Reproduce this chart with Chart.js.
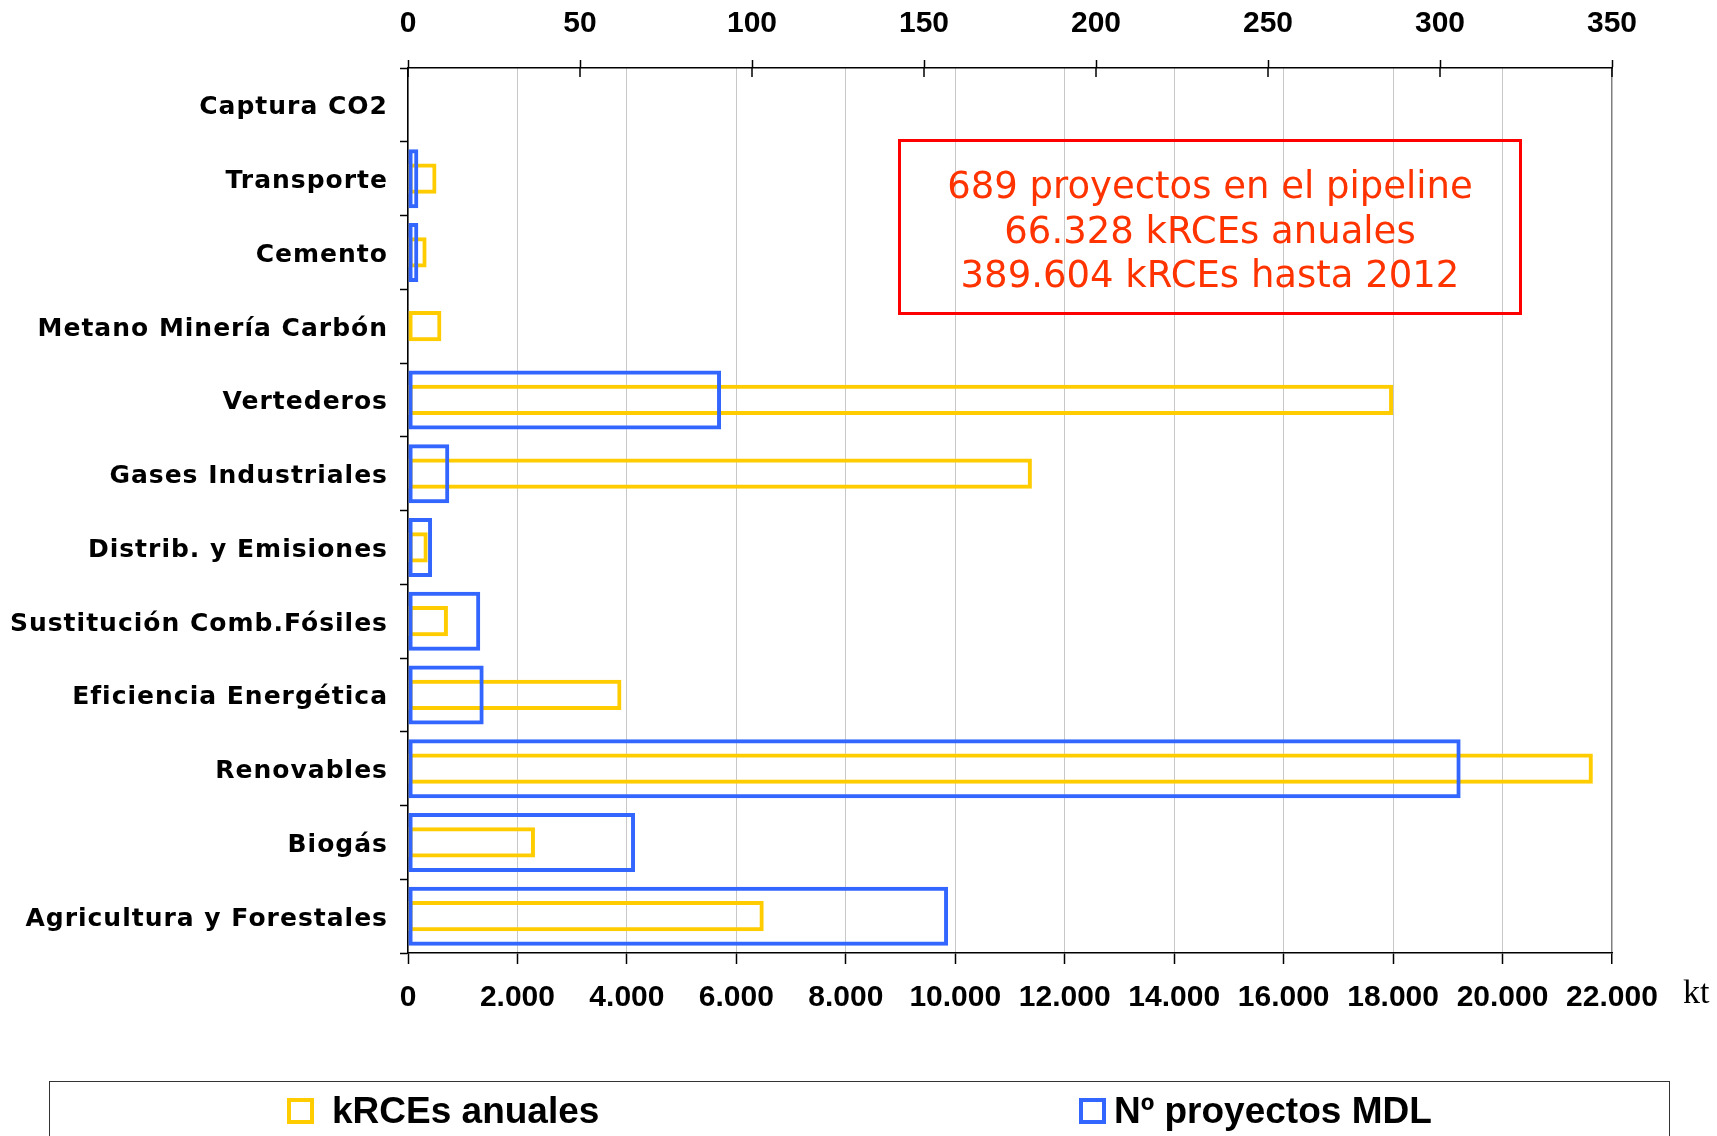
<!DOCTYPE html>
<html>
<head>
<meta charset="utf-8">
<script src="https://cdn.jsdelivr.net/npm/chart.js@4.4.1/dist/chart.umd.min.js"></script>
<style>
html,body{margin:0;padding:0;background:#fff;}
#wrap{position:relative;width:1717px;height:1136px;overflow:hidden;background:#fff;}
#c{position:absolute;left:0;top:0;}
#note{position:absolute;left:898px;top:139px;width:624px;height:176px;box-sizing:border-box;border:3px solid #ff0000;color:#ff3300;font-family:'DejaVu Sans',sans-serif;font-size:37px;line-height:44.5px;text-align:center;display:flex;flex-direction:column;justify-content:center;white-space:nowrap;padding-top:8px;}
#kt{position:absolute;left:1683px;top:972px;font-family:'Liberation Serif',serif;font-size:34px;line-height:40px;color:#000;}
#legend{position:absolute;left:49px;top:1081px;width:1621px;height:120px;box-sizing:border-box;border:1.5px solid #333;}
.sw{position:absolute;top:1098px;width:27px;height:26px;box-sizing:border-box;border-width:4px;border-style:solid;background:transparent;}
.lt{position:absolute;top:1090px;font-family:'Liberation Sans',Arial,sans-serif;font-weight:bold;font-size:37px;line-height:42px;color:#000;white-space:nowrap;}
</style>
</head>
<body>
<div id="wrap">
  <canvas id="c" width="1717" height="1136"></canvas>
  <div id="note"><div>689 proyectos en el pipeline</div><div>66.328 kRCEs anuales</div><div>389.604 kRCEs hasta 2012</div></div>
  <div id="kt">kt</div>
  <div id="legend"></div>
  <div class="sw" style="left:287px;border-color:#FFCC00;"></div>
  <div class="lt" style="left:332px;">kRCEs anuales</div>
  <div class="sw" style="left:1079px;border-color:#3366FF;"></div>
  <div class="lt" style="left:1114px;">Nº proyectos MDL</div>
</div>
<script>
// ---- data ----
const categories = ['Captura CO2','Transporte','Cemento','Metano Minería Carbón','Vertederos','Gases Industriales','Distrib. y Emisiones','Sustitución Comb.Fósiles','Eficiencia Energética','Renovables','Biogás','Agricultura y Forestales'];
const kRCEsAnuales = [0, 520, 340, 610, 18000, 11400, 360, 730, 3900, 21650, 2320, 6500];
const proyectosMDL = [0, 3, 3, 0, 91, 12, 7, 21, 22, 306, 66, 157];
const seriesNames = ['kRCEs anuales', 'Nº proyectos MDL'];
const ktRange = [0, 22000, 2000];
const projRange = [0, 350, 50];

function fmt(v){ return String(v).replace(/\B(?=(\d{3})+(?!\d))/g, '.'); }

const topTicksInward = {
  id: 'topTicksInward',
  afterDraw(chart){
    const s = chart.scales.x2, ctx = chart.ctx;
    ctx.save();
    ctx.strokeStyle = '#000'; ctx.lineWidth = 1.5;
    s.ticks.forEach(t => {
      const x = s.getPixelForValue(t.value);
      ctx.beginPath(); ctx.moveTo(x, s.bottom); ctx.lineTo(x, s.bottom + 9); ctx.stroke();
    });
    ctx.restore();
  }
};
const ySpacing = {
  id: 'ySpacing',
  beforeDraw(chart){
    const y = chart.scales.y;
    if (!y.__patched){
      const orig = y.drawLabels;
      y.drawLabels = function(a){ const c = this.ctx; c.save(); c.letterSpacing = '1px'; orig.call(this, a); c.restore(); };
      y.__patched = true;
    }
  }
};

const tickFont = {family: "'Liberation Sans', Arial, sans-serif", weight: 'bold', size: 30};

new Chart(document.getElementById('c'), {
  type: 'bar',
  data: {
    labels: categories,
    datasets: [
      {
        label: seriesNames[1], data: proyectosMDL, xAxisID: 'x2',
        backgroundColor: 'rgba(0,0,0,0)', borderColor: '#3366FF', borderWidth: 4,
        borderSkipped: false, grouped: false, barPercentage: 0.8, categoryPercentage: 1
      },
      {
        label: seriesNames[0], data: kRCEsAnuales, xAxisID: 'x',
        backgroundColor: 'rgba(0,0,0,0)', borderColor: '#FFCC00', borderWidth: 4,
        borderSkipped: false, grouped: false, barPercentage: 0.41, categoryPercentage: 1
      }
    ]
  },
  options: {
    indexAxis: 'y',
    responsive: false,
    animation: false,
    devicePixelRatio: 1,
    layout: {padding: {left: 0, right: 105, top: 0, bottom: 0}},
    plugins: {legend: {display: false}, tooltip: {enabled: false}},
    scales: {
      y: {
        type: 'category',
        afterFit(s){ s.width = 408; },
        grid: {offset: true, drawOnChartArea: false, drawTicks: true, tickLength: 8, tickColor: '#000', tickWidth: 1.5},
        border: {color: '#000', width: 1.5},
        ticks: {color: '#000', padding: 12, labelOffset: 3, font: {family: "'DejaVu Sans', Verdana, sans-serif", weight: 'bold', size: 25}}
      },
      x: {
        type: 'linear', position: 'bottom',
        min: ktRange[0], max: ktRange[1],
        afterFit(s){ s.height = 183; },
        grid: {
          color: ctx => (ctx.tick && ctx.tick.value === ktRange[1]) ? '#7f7f7f' : '#c8c8c8',
          lineWidth: ctx => (ctx.tick && ctx.tick.value === ktRange[1]) ? 1.5 : 1,
          tickColor: '#000', tickLength: 11, tickWidth: 1.5
        },
        border: {color: '#000', width: 1.5},
        ticks: {stepSize: ktRange[2], autoSkip: false, maxRotation: 0, color: '#000', padding: 16, font: tickFont, callback: v => fmt(v)}
      },
      x2: {
        type: 'linear', position: 'top',
        min: projRange[0], max: projRange[1],
        afterFit(s){ s.height = 68; },
        grid: {drawOnChartArea: false, drawTicks: true, tickLength: 8, tickColor: '#000', tickWidth: 1.5},
        border: {color: '#000', width: 1.5},
        ticks: {stepSize: projRange[2], autoSkip: false, maxRotation: 0, color: '#000', padding: 18, font: tickFont}
      }
    }
  },
  plugins: [topTicksInward, ySpacing]
});
</script>
</body>
</html>
